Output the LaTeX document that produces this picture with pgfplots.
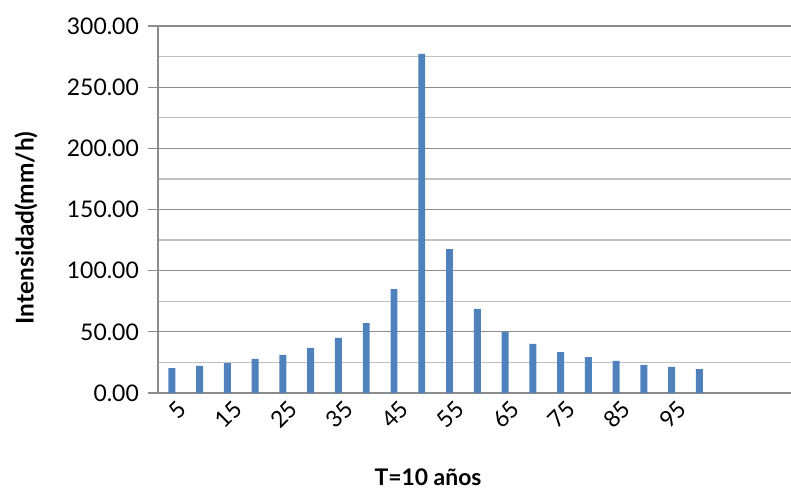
\documentclass[border=0pt]{standalone}
\usepackage{pgfplots}
\pgfplotsset{compat=1.18}
\usepackage{fontspec}
\setmainfont{Lato}
\definecolor{barblue}{HTML}{4F81BD}
\definecolor{majgrid}{HTML}{8C8C8C}
\definecolor{mingrid}{HTML}{BFBFBF}
\begin{document}
\begin{tikzpicture}
\useasboundingbox (0,0) rectangle (791bp,489bp);
\begin{axis}[
  at={(158bp,96bp)}, anchor=south west,
  scale only axis, width=633bp, height=367bp,
  xmin=2.5, xmax=116.5, ymin=0, ymax=300,
  ybar, bar width=1.25, bar shift=0pt,
  axis lines=left,
  axis line style={draw=majgrid, line width=1.2pt, -},
  xtick={5,15,...,95},
  ytick={0,50,...,300},
  minor ytick={25,75,...,275},
  ymajorgrids, yminorgrids,
  major grid style={draw=majgrid, line width=1.2pt},
  minor grid style={draw=mingrid, line width=1.2pt},
  tick align=outside,
  major tick length=10bp, minor tick length=0pt,
  xtick style={draw=none},
  ytick style={draw=majgrid, line width=1.2pt},
  /pgf/number format/assume math mode=true,
  yticklabel={\pgfmathprintnumber[fixed, fixed zerofill, precision=2]{\tick}},
  yticklabel style={font=\fontsize{23}{26}\selectfont, inner sep=0pt, xshift=-9bp},
  xticklabel style={font=\fontsize{23}{26}\selectfont, rotate=45, anchor=east, inner sep=0pt, xshift=6bp, yshift=-9bp},
  clip=false,
]
\addplot[fill=barblue, draw=none] coordinates {
(5,20.4) (10,22.1) (15,24.5) (20,27.8) (25,31.1) (30,36.8) (35,45.0) (40,57.2)
(45,85.0) (50,277.2) (55,117.7) (60,68.7) (65,49.9) (70,40.1) (75,33.5)
(80,29.4) (85,26.2) (90,22.9) (95,21.3) (100,19.6)
};
\end{axis}
\node[font=\bfseries\fontsize{24.5}{28}\selectfont, rotate=90] at (26bp,261bp) {Intensidad(mm/h)};
\node[font=\bfseries\fontsize{23}{26}\selectfont] at (428bp,12bp) {T=10 años};
\end{tikzpicture}
\end{document}
